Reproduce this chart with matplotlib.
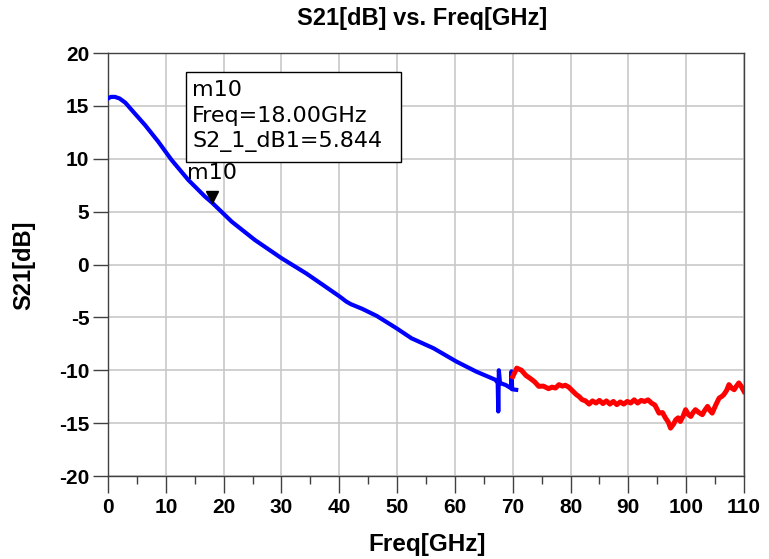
import matplotlib
matplotlib.use("Agg")
import matplotlib.pyplot as plt
from matplotlib.patches import Rectangle
from matplotlib.transforms import ScaledTranslation
from matplotlib.ticker import MultipleLocator

plt.rcParams["axes.unicode_minus"] = False

# ---- data ----
blue_freq = [0, 0.5, 1.2, 2, 3, 4.1, 6.4, 8.7, 11.0, 13.9, 16.8, 18, 21.4, 25.4, 30.0,
             34.3, 37.2, 40.1, 41.2, 42.0, 44, 46.5, 49.9, 52.5, 56.3, 60.3, 63.7, 67.0,
             67.4, 67.5, 67.6, 67.8, 68.8, 69.7, 69.8, 69.9, 70.6]
blue_db = [15.7, 15.85, 15.85, 15.7, 15.3, 14.61, 13.19, 11.61, 9.88, 7.99, 6.41, 5.844,
           4.05, 2.32, 0.6, -0.85, -1.94, -3.04, -3.5, -3.75, -4.2, -4.87, -6.03, -6.98,
           -7.92, -9.19, -10.13, -10.9, -11.2, -13.9, -10.0, -11.2, -11.4, -11.7, -10.1,
           -11.8, -11.85]

red_freq = [70.0, 70.7, 71.5, 72.3, 73.0, 73.8, 74.5, 75.3, 76.2, 76.8, 77.4, 78.0, 78.6,
            79.1, 79.7, 80.3, 81.0, 81.5, 82.0, 82.6, 83.2, 83.8, 84.4, 85.0, 85.6, 86.2,
            86.8, 87.4, 88.0, 88.6, 89.2, 89.8, 90.4, 91.0, 91.6, 92.2, 92.8, 93.4, 94.0,
            94.6, 95.3, 95.9, 96.4, 96.9, 97.3, 97.8, 98.2, 98.6, 99.0, 99.5, 99.9, 100.4,
            100.8, 101.2, 101.6, 102.2, 102.8, 103.2, 103.7, 104.1, 104.5, 105.1, 105.7,
            106.1, 106.5, 107.0, 107.4, 107.9, 108.3, 108.7, 109.1, 109.5, 110]
red_db = [-10.6, -9.8, -10.0, -10.5, -10.76, -11.1, -11.52, -11.5, -11.74, -11.6, -11.68,
          -11.36, -11.5, -11.42, -11.6, -11.93, -12.3, -12.5, -12.78, -12.9, -13.2, -12.9,
          -13.1, -12.85, -13.15, -12.9, -13.2, -12.95, -13.25, -13.0, -13.2, -12.95, -13.1,
          -12.8, -13.1, -12.85, -12.95, -12.8, -13.1, -13.3, -14.05, -14.0, -14.5, -14.9,
          -15.47, -15.1, -14.68, -14.5, -14.84, -14.3, -13.73, -14.2, -14.37, -14.0,
          -13.73, -14.0, -14.2, -13.8, -13.42, -13.8, -14.05, -13.3, -12.63, -12.5,
          -12.31, -11.9, -11.36, -11.7, -11.84, -11.5, -11.2, -11.5, -12.0]

marker_name = "m10"
marker_freq = 18.00
marker_val = 5.844
marker_lines = ["m10", "Freq=18.00GHz", "S2_1_dB1=5.844"]

x_ticks = list(range(0, 111, 10))
y_ticks = list(range(-20, 21, 5))

title = "S21[dB] vs. Freq[GHz]"
xlabel = "Freq[GHz]"
ylabel = "S21[dB]"

# ---- figure ----
W, H = 769, 559
fig = plt.figure(figsize=(W / 100, H / 100), dpi=100)
ax = fig.add_axes([108 / W, 1 - 476 / H, (744 - 108) / W, (476 - 53) / H])

ax.plot(blue_freq, blue_db, color="#0000ff", lw=3.0, solid_joinstyle="round", zorder=3)
ax.plot(red_freq, red_db, color="#ff0000", lw=3.6, solid_joinstyle="round", zorder=3)

ax.set_xlim(0, 110)
ax.set_ylim(-20, 20)
ax.set_xticks(x_ticks)
ax.set_yticks(y_ticks)
ax.xaxis.set_minor_locator(MultipleLocator(5))
ax.grid(True, which="major", color="#c8c8c8", lw=1.2, zorder=0)
ax.set_axisbelow(True)

for s in ax.spines.values():
    s.set_color("#404040")
    s.set_linewidth(1.0)

bold = dict(family="Liberation Sans", weight="bold")
ax.tick_params(axis="x", which="major", direction="out", length=12, width=1.0,
               color="#404040", pad=4, labelsize=15)
ax.tick_params(axis="x", which="minor", direction="out", length=6, width=1.0,
               color="#404040")
ax.tick_params(axis="y", which="major", direction="out", length=10.5, width=1.0,
               color="#404040", pad=3, labelsize=15)
for lab in ax.get_xticklabels() + ax.get_yticklabels():
    lab.set_fontfamily("Liberation Sans")
    lab.set_fontweight("bold")

fig.text(422 / W, 1 - 19 / H, title, ha="center", va="center", fontsize=17, **bold)
fig.text(427 / W, 1 - 545 / H, xlabel, ha="center", va="center", fontsize=17.5, **bold)
fig.text(24 / W, 1 - 265 / H, ylabel, ha="center", va="center", rotation=90,
         fontsize=17, **bold)

# marker triangle
off = ScaledTranslation(0, 6 / 100, fig.dpi_scale_trans)
ax.plot([marker_freq], [marker_val], marker="v", ms=9, color="black", ls="none",
        transform=ax.transData + off, zorder=5)
ax.annotate(marker_name, (marker_freq, marker_val), xytext=(-25, 30),
            textcoords="offset pixels", ha="left", va="center", fontsize=16,
            family="DejaVu Sans", zorder=6)

# marker readout box
fig.patches.append(Rectangle((186 / W, 1 - 162 / H), (401 - 186) / W, (162 - 72) / H,
                             transform=fig.transFigure, fill=True, facecolor="white",
                             edgecolor="black", lw=1.0, zorder=10))
for txt, yc in zip(marker_lines, [90, 116, 142]):
    fig.text(192 / W, 1 - yc / H, txt, ha="left", va="center", fontsize=16,
             family="DejaVu Sans", zorder=11)

fig.savefig("out.png", dpi=100)
